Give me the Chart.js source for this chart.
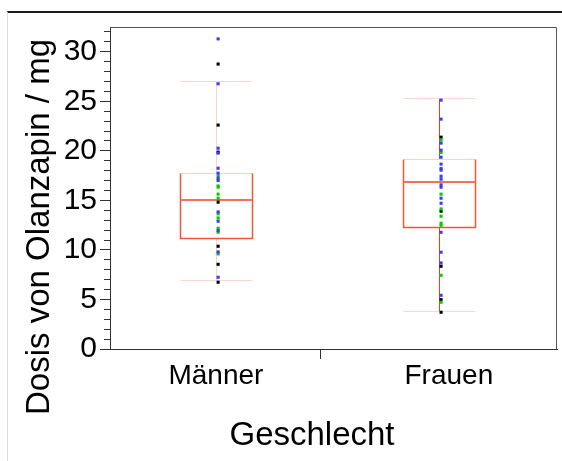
<!DOCTYPE html>
<html>
<head>
<meta charset="utf-8">
<script src="https://cdn.jsdelivr.net/npm/chart.js@4.4.0/dist/chart.umd.min.js"></script>
<style>
  html, body { margin: 0; padding: 0; background: #fff; }
  #wrap { position: relative; width: 562px; height: 461px; overflow: hidden; }
  #frame { position: absolute; left: 7px; top: 11px; right: 0; bottom: 0; border-top: 2px solid #1a1a1a; border-left: 1px solid #dcdcdc; }
  canvas { position: absolute; left: 0; top: 0; }
</style>
</head>
<body>
<div id="wrap">
  <div id="frame"></div>
  <canvas id="chart" width="562" height="461"></canvas>
</div>
<script>
// categories and box statistics (mg)
const categories = ['Männer', 'Frauen'];
const positions = [1, 2];
const labelPositions = [1, 2.045];
const whiskerLow = [7.0, 3.85];
const q1 = [11.2, 12.35];
const median = [15.05, 16.85];
const q3 = [17.75, 19.2];
const whiskerHigh = [27.0, 25.3];

// single observations, by colour group
const menBlue = [31.3, 26.77, 20.27, 19.77, 18.25, 17.74, 17.24, 17.0, 13.84, 12.9, 11.95, 9.8, 7.24];
const menGreen = [17.47, 16.46, 16.33, 15.63, 15.22, 13.64, 13.23, 12.19, 11.79, 9.6];
const menBlack = [28.76, 22.6, 19.87, 14.82, 10.37, 8.55, 6.74];
const womenBlue = [25.12, 23.2, 20.78, 20.07, 19.36, 18.66, 18.21, 18.05, 17.44, 17.14, 16.57, 16.33, 15.22, 14.71, 11.78, 9.77, 8.69, 5.42];
const womenGreen = [21.1, 19.83, 15.63, 14.14, 13.4, 12.7, 12.49, 7.44, 4.72];
const womenBlack = [21.38, 13.91, 8.35, 4.98, 3.71];

const yTicks = [];
for (let v = 0; v <= 32; v++) yTicks.push(v);
const separator = 1.47;

const FONT = '"Liberation Sans", Arial, sans-serif';

function toPoints(values, pos) {
    return values.map(v => ({ x: pos + 0.01, y: v }));
}

function pointSet(label, values, pos, color) {
    return {
        label: label,
        data: toPoints(values, pos),
        backgroundColor: color,
        borderWidth: 0,
        pointStyle: 'rect',
        pointRadius: 2.2,
        pointHoverRadius: 2.2
    };
}

// boxes, whiskers and the plot frame
const boxPlugin = {
    id: 'boxes',
    beforeDatasetsDraw(chart) {
        const { ctx, scales: { x, y } } = chart;
        const half = 0.161;
        ctx.save();
        categories.forEach((c, i) => {
            const cx = Math.round(x.getPixelForValue(positions[i])) + 0.5;
            const l = Math.round(x.getPixelForValue(positions[i] - half)) + 0.5;
            const r = Math.round(x.getPixelForValue(positions[i] + half)) + 0.5;
            const yLo = Math.round(y.getPixelForValue(whiskerLow[i])) + 0.5;
            const yHi = Math.round(y.getPixelForValue(whiskerHigh[i])) + 0.5;
            const yQ1 = Math.round(y.getPixelForValue(q1[i])) + 0.5;
            const yQ3 = Math.round(y.getPixelForValue(q3[i])) + 0.5;
            const yMed = y.getPixelForValue(median[i]);

            ctx.lineWidth = 1;
            // whiskers
            ctx.strokeStyle = i === 0 ? '#ffd0c9' : '#f03a24';
            ctx.beginPath();
            ctx.moveTo(cx, yHi); ctx.lineTo(cx, yQ3);
            ctx.moveTo(cx, yQ1); ctx.lineTo(cx, yLo);
            ctx.stroke();
            // caps
            ctx.strokeStyle = '#ffd6d0';
            ctx.beginPath();
            ctx.moveTo(l, yHi); ctx.lineTo(r, yHi);
            ctx.moveTo(l, yLo); ctx.lineTo(r, yLo);
            ctx.stroke();
            // box
            ctx.strokeStyle = '#ffcfc8';
            ctx.beginPath();
            ctx.moveTo(l, yQ3); ctx.lineTo(r, yQ3);
            ctx.stroke();
            ctx.strokeStyle = '#f0553f';
            ctx.lineWidth = 1.5;
            ctx.beginPath();
            ctx.moveTo(l, yQ3); ctx.lineTo(l, yQ1); ctx.lineTo(r, yQ1); ctx.lineTo(r, yQ3);
            ctx.stroke();
            // median
            ctx.strokeStyle = '#f4705c';
            ctx.lineWidth = 2;
            ctx.beginPath();
            ctx.moveTo(l, yMed); ctx.lineTo(r, yMed);
            ctx.stroke();
        });
        ctx.restore();
    },
    afterDraw(chart) {
        const { ctx, chartArea: a } = chart;
        ctx.save();
        ctx.strokeStyle = '#555';
        ctx.lineWidth = 1;
        ctx.beginPath();
        ctx.moveTo(a.left, a.top + 0.5); ctx.lineTo(a.right - 0.5, a.top + 0.5); ctx.lineTo(a.right - 0.5, a.bottom);
        ctx.stroke();

        // axis titles
        ctx.fillStyle = '#000';
        ctx.font = '33px ' + FONT;
        ctx.textAlign = 'center';
        ctx.textBaseline = 'middle';
        ctx.fillText('Geschlecht', 312, 436);
        ctx.translate(40, 227);
        ctx.rotate(-Math.PI / 2);
        ctx.fillText('Dosis von Olanzapin / mg', 0, 0);
        ctx.restore();
    }
};

const ctx = document.getElementById('chart').getContext('2d');
new Chart(ctx, {
    type: 'scatter',
    data: {
        datasets: [
            pointSet('Männer blau', menBlue, positions[0], '#3c3cff'),
            pointSet('Männer grün', menGreen, positions[0], '#00d000'),
            pointSet('Männer schwarz', menBlack, positions[0], '#000000'),
            pointSet('Frauen blau', womenBlue, positions[1], '#3c3cff'),
            pointSet('Frauen grün', womenGreen, positions[1], '#00d000'),
            pointSet('Frauen schwarz', womenBlack, positions[1], '#000000')
        ]
    },
    options: {
        responsive: false,
        animation: false,
        layout: { padding: { top: 27, right: 5, left: 0, bottom: 0 } },
        plugins: {
            legend: { display: false },
            tooltip: { enabled: false }
        },
        scales: {
            x: {
                type: 'linear',
                min: 0.525,
                max: 2.53,
                afterBuildTicks: (scale) => {
                    scale.ticks = [{ value: labelPositions[0] }, { value: separator }, { value: labelPositions[1] }];
                },
                afterFit: (scale) => { scale.height = 112; },
                border: { color: '#333', width: 1 },
                grid: {
                    drawOnChartArea: false,
                    tickLength: 10,
                    tickColor: (c) => c.tick && c.tick.value === separator ? '#333' : 'rgba(0,0,0,0)'
                },
                ticks: {
                    autoSkip: false,
                    maxRotation: 0,
                    padding: 0,
                    color: '#000',
                    font: { family: FONT, size: 28 },
                    callback: (v) => {
                        const i = labelPositions.indexOf(v);
                        return i >= 0 ? categories[i] : '';
                    }
                }
            },
            y: {
                min: 0,
                max: 32.5,
                afterBuildTicks: (scale) => {
                    scale.ticks = yTicks.map(v => ({ value: v }));
                },
                afterFit: (scale) => { scale.width = 110; },
                border: { color: '#333', width: 1 },
                grid: {
                    drawOnChartArea: false,
                    tickLength: 10,
                    tickColor: '#333',
                    tickBorderDash: (c) => c.tick && c.tick.value % 5 === 0 ? [] : [6, 4],
                    tickBorderDashOffset: 6
                },
                ticks: {
                    autoSkip: false,
                    padding: 3,
                    color: '#000',
                    font: { family: FONT, size: 30 },
                    callback: (v) => v % 5 === 0 ? String(v) : ''
                }
            }
        }
    },
    plugins: [boxPlugin]
});
</script>
</body>
</html>
